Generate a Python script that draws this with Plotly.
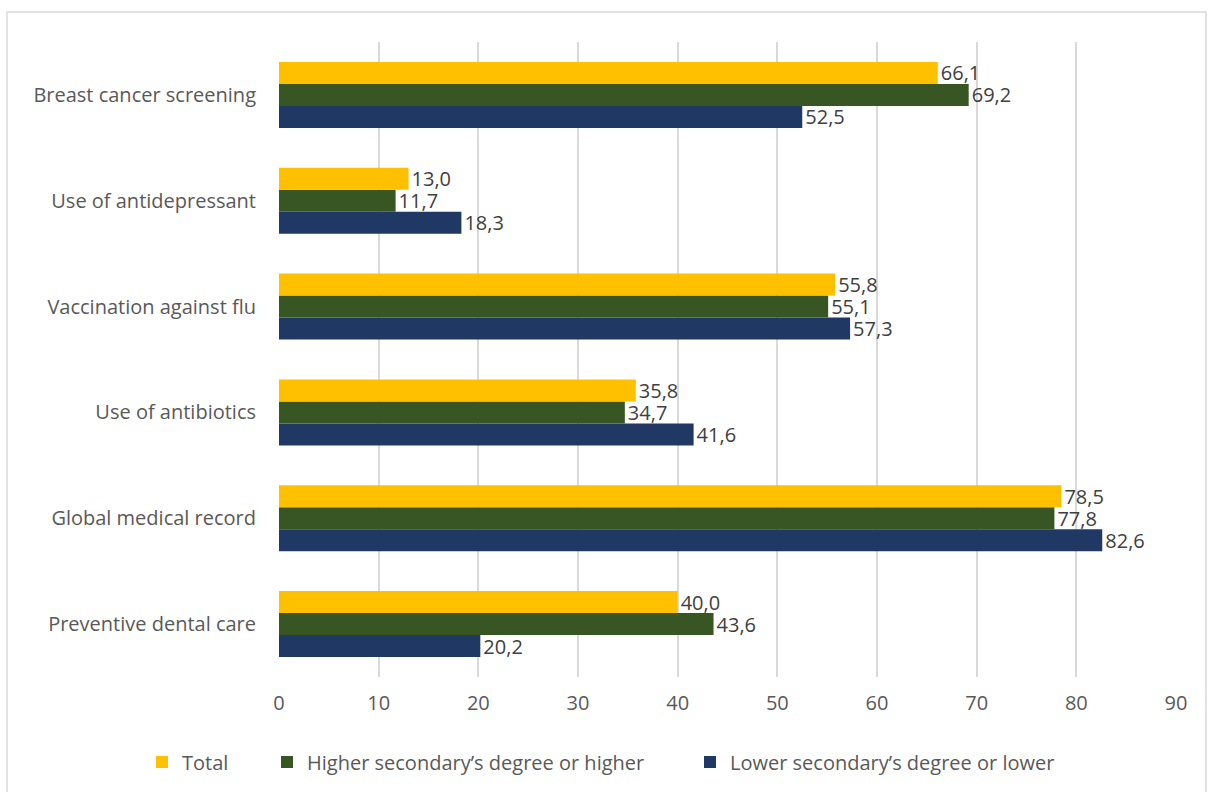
import plotly.graph_objects as go

categories = ["Breast cancer screening", "Use of antidepressant", "Vaccination against flu",
              "Use of antibiotics", "Global medical record", "Preventive dental care"]
total = [66.1, 13.0, 55.8, 35.8, 78.5, 40.0]
higher = [69.2, 11.7, 55.1, 34.7, 77.8, 43.6]
lower = [52.5, 18.3, 57.3, 41.6, 82.6, 20.2]
series_names = ["Total", "Higher secondary’s degree or higher", "Lower secondary’s degree or lower"]
x_ticks = [0, 10, 20, 30, 40, 50, 60, 70, 80, 90]

colors = {"Total": "#FFC000", series_names[1]: "#375623", series_names[2]: "#203864"}
FONT = "Open Sans"
FS = 20

L, R, T, B = 279, 37, 42, 114
W, H = 1213, 792
pw, ph = W - L - R, H - T - B

def px(x):
    return (x - L) / pw

def py(y):
    return (H - B - y) / ph

fig = go.Figure()
for name, vals, leg in [(series_names[2], lower, "legend3"), (series_names[1], higher, "legend2"), ("Total", total, "legend")]:
    fig.add_trace(go.Bar(
        y=categories, x=vals, name=name, orientation="h",
        marker=dict(color=colors[name], line=dict(width=0)),
        texttemplate="%{x:.1f}", textposition="outside", constraintext="none",
        textfont=dict(family=FONT, size=FS, color="#404040"),
        cliponaxis=False, legend=leg, showlegend=True,
    ))

leg_common = dict(orientation="h", yanchor="middle", y=py(762), xanchor="left",
                  font=dict(family=FONT, size=FS, color="#595959"),
                  itemwidth=30, bgcolor="rgba(0,0,0,0)")

fig.update_layout(
    width=W, height=H,
    margin=dict(l=L, r=R, t=T, b=B),
    paper_bgcolor="white", plot_bgcolor="white",
    showlegend=True,
    barmode="group", bargap=0.377, bargroupgap=0,
    separators=",.",
    font=dict(family=FONT, size=FS, color="#595959"),
    xaxis=dict(range=[0, 90], tickvals=x_ticks, showgrid=True, gridcolor="#D9D9D9", gridwidth=1.5,
               zeroline=False, showline=False, ticks="", ticklabelstandoff=12,
               tickfont=dict(family=FONT, size=FS, color="#595959")),
    yaxis=dict(categoryorder="array", categoryarray=categories[::-1], showgrid=False,
               showline=False, ticks="", ticklabelstandoff=22,
               tickfont=dict(family=FONT, size=FS, color="#595959")),
    legend=dict(leg_common, x=px(142)),
    legend2=dict(leg_common, x=px(267)),
    legend3=dict(leg_common, x=px(690)),
    shapes=[dict(type="rect", xref="paper", yref="paper",
                 x0=px(7), x1=px(1206), y0=py(800), y1=py(12),
                 line=dict(color="#D9D9D9", width=1.5), fillcolor="rgba(0,0,0,0)", layer="below")],
)

fig.write_html("out.html")
